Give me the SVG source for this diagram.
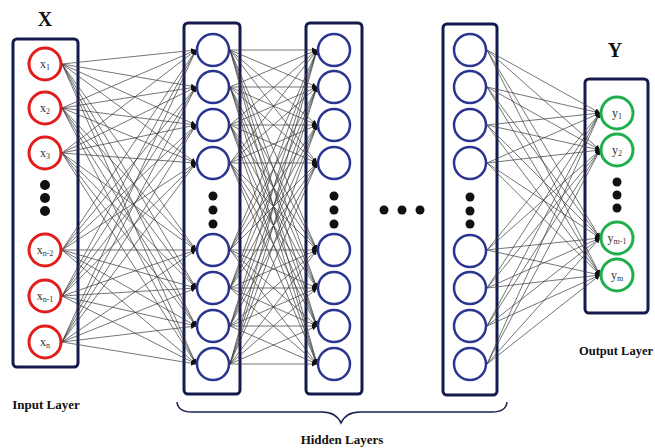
<svg xmlns="http://www.w3.org/2000/svg" width="655" height="448" viewBox="0 0 655 448">
<defs>
<marker id="ah" markerWidth="6" markerHeight="6" refX="5" refY="3" orient="auto" markerUnits="userSpaceOnUse"><path d="M0,0.6 L5,3 L0,5.4 z" fill="#111"/></marker>
<style>
.box{fill:#fff;stroke:#151a4d;stroke-width:3}
.in{fill:#fff;stroke:#e31c1c;stroke-width:3}
.hid{fill:#fff;stroke:#2a3590;stroke-width:2.5}
.out{fill:#fff;stroke:#1fae4c;stroke-width:3}
.dot{fill:#111}
.c line{stroke:#3a3a3a;stroke-width:0.7;marker-end:url(#ah)}
.nl{font-family:"Liberation Serif",serif;font-size:12px;fill:#333;text-anchor:middle}
.sub{font-size:8px}
.ttl{font-family:"Liberation Serif",serif;font-weight:bold;fill:#111;text-anchor:middle}
</style>
</defs>
<rect width="655" height="448" fill="#fff"/>
<g id="boxes">
<rect class="box" x="13" y="39" width="65" height="328" rx="4"/>
<rect class="box" x="184" y="23" width="56" height="371" rx="4"/>
<rect class="box" x="306" y="23" width="56" height="371" rx="4"/>
<rect class="box" x="443" y="24" width="54" height="371" rx="4"/>
<rect class="box" x="585" y="79" width="63" height="234" rx="4"/>
</g>
<g id="connectors" class="c">
<line x1="62" y1="64" x2="196" y2="50"/><line x1="62" y1="64" x2="196" y2="87"/><line x1="62" y1="64" x2="196" y2="125"/><line x1="62" y1="64" x2="196" y2="163"/><line x1="62" y1="64" x2="196" y2="250"/><line x1="62" y1="64" x2="196" y2="288"/><line x1="62" y1="64" x2="196" y2="326"/><line x1="62" y1="64" x2="196" y2="364"/>
<line x1="62" y1="108" x2="196" y2="50"/><line x1="62" y1="108" x2="196" y2="87"/><line x1="62" y1="108" x2="196" y2="125"/><line x1="62" y1="108" x2="196" y2="163"/><line x1="62" y1="108" x2="196" y2="250"/><line x1="62" y1="108" x2="196" y2="288"/><line x1="62" y1="108" x2="196" y2="326"/><line x1="62" y1="108" x2="196" y2="364"/>
<line x1="62" y1="153" x2="196" y2="50"/><line x1="62" y1="153" x2="196" y2="87"/><line x1="62" y1="153" x2="196" y2="125"/><line x1="62" y1="153" x2="196" y2="163"/><line x1="62" y1="153" x2="196" y2="250"/><line x1="62" y1="153" x2="196" y2="288"/><line x1="62" y1="153" x2="196" y2="326"/><line x1="62" y1="153" x2="196" y2="364"/>
<line x1="62" y1="250" x2="196" y2="50"/><line x1="62" y1="250" x2="196" y2="87"/><line x1="62" y1="250" x2="196" y2="125"/><line x1="62" y1="250" x2="196" y2="163"/><line x1="62" y1="250" x2="196" y2="250"/><line x1="62" y1="250" x2="196" y2="288"/><line x1="62" y1="250" x2="196" y2="326"/><line x1="62" y1="250" x2="196" y2="364"/>
<line x1="62" y1="296" x2="196" y2="50"/><line x1="62" y1="296" x2="196" y2="87"/><line x1="62" y1="296" x2="196" y2="125"/><line x1="62" y1="296" x2="196" y2="163"/><line x1="62" y1="296" x2="196" y2="250"/><line x1="62" y1="296" x2="196" y2="288"/><line x1="62" y1="296" x2="196" y2="326"/><line x1="62" y1="296" x2="196" y2="364"/>
<line x1="62" y1="342" x2="196" y2="50"/><line x1="62" y1="342" x2="196" y2="87"/><line x1="62" y1="342" x2="196" y2="125"/><line x1="62" y1="342" x2="196" y2="163"/><line x1="62" y1="342" x2="196" y2="250"/><line x1="62" y1="342" x2="196" y2="288"/><line x1="62" y1="342" x2="196" y2="326"/><line x1="62" y1="342" x2="196" y2="364"/>
<line x1="230" y1="50" x2="317" y2="50"/><line x1="230" y1="50" x2="317" y2="87"/><line x1="230" y1="50" x2="317" y2="125"/><line x1="230" y1="50" x2="317" y2="163"/><line x1="230" y1="50" x2="317" y2="250"/><line x1="230" y1="50" x2="317" y2="288"/><line x1="230" y1="50" x2="317" y2="326"/><line x1="230" y1="50" x2="317" y2="364"/>
<line x1="230" y1="87" x2="317" y2="50"/><line x1="230" y1="87" x2="317" y2="87"/><line x1="230" y1="87" x2="317" y2="125"/><line x1="230" y1="87" x2="317" y2="163"/><line x1="230" y1="87" x2="317" y2="250"/><line x1="230" y1="87" x2="317" y2="288"/><line x1="230" y1="87" x2="317" y2="326"/><line x1="230" y1="87" x2="317" y2="364"/>
<line x1="230" y1="125" x2="317" y2="50"/><line x1="230" y1="125" x2="317" y2="87"/><line x1="230" y1="125" x2="317" y2="125"/><line x1="230" y1="125" x2="317" y2="163"/><line x1="230" y1="125" x2="317" y2="250"/><line x1="230" y1="125" x2="317" y2="288"/><line x1="230" y1="125" x2="317" y2="326"/><line x1="230" y1="125" x2="317" y2="364"/>
<line x1="230" y1="163" x2="317" y2="50"/><line x1="230" y1="163" x2="317" y2="87"/><line x1="230" y1="163" x2="317" y2="125"/><line x1="230" y1="163" x2="317" y2="163"/><line x1="230" y1="163" x2="317" y2="250"/><line x1="230" y1="163" x2="317" y2="288"/><line x1="230" y1="163" x2="317" y2="326"/><line x1="230" y1="163" x2="317" y2="364"/>
<line x1="230" y1="250" x2="317" y2="50"/><line x1="230" y1="250" x2="317" y2="87"/><line x1="230" y1="250" x2="317" y2="125"/><line x1="230" y1="250" x2="317" y2="163"/><line x1="230" y1="250" x2="317" y2="250"/><line x1="230" y1="250" x2="317" y2="288"/><line x1="230" y1="250" x2="317" y2="326"/><line x1="230" y1="250" x2="317" y2="364"/>
<line x1="230" y1="288" x2="317" y2="50"/><line x1="230" y1="288" x2="317" y2="87"/><line x1="230" y1="288" x2="317" y2="125"/><line x1="230" y1="288" x2="317" y2="163"/><line x1="230" y1="288" x2="317" y2="250"/><line x1="230" y1="288" x2="317" y2="288"/><line x1="230" y1="288" x2="317" y2="326"/><line x1="230" y1="288" x2="317" y2="364"/>
<line x1="230" y1="326" x2="317" y2="50"/><line x1="230" y1="326" x2="317" y2="87"/><line x1="230" y1="326" x2="317" y2="125"/><line x1="230" y1="326" x2="317" y2="163"/><line x1="230" y1="326" x2="317" y2="250"/><line x1="230" y1="326" x2="317" y2="288"/><line x1="230" y1="326" x2="317" y2="326"/><line x1="230" y1="326" x2="317" y2="364"/>
<line x1="230" y1="364" x2="317" y2="50"/><line x1="230" y1="364" x2="317" y2="87"/><line x1="230" y1="364" x2="317" y2="125"/><line x1="230" y1="364" x2="317" y2="163"/><line x1="230" y1="364" x2="317" y2="250"/><line x1="230" y1="364" x2="317" y2="288"/><line x1="230" y1="364" x2="317" y2="326"/><line x1="230" y1="364" x2="317" y2="364"/>
<line x1="487" y1="50" x2="600" y2="113"/><line x1="487" y1="50" x2="600" y2="150"/><line x1="487" y1="50" x2="600" y2="238"/><line x1="487" y1="50" x2="600" y2="275"/>
<line x1="487" y1="87" x2="600" y2="113"/><line x1="487" y1="87" x2="600" y2="150"/><line x1="487" y1="87" x2="600" y2="238"/><line x1="487" y1="87" x2="600" y2="275"/>
<line x1="487" y1="125" x2="600" y2="113"/><line x1="487" y1="125" x2="600" y2="150"/><line x1="487" y1="125" x2="600" y2="238"/><line x1="487" y1="125" x2="600" y2="275"/>
<line x1="487" y1="163" x2="600" y2="113"/><line x1="487" y1="163" x2="600" y2="150"/><line x1="487" y1="163" x2="600" y2="238"/><line x1="487" y1="163" x2="600" y2="275"/>
<line x1="487" y1="250" x2="600" y2="113"/><line x1="487" y1="250" x2="600" y2="150"/><line x1="487" y1="250" x2="600" y2="238"/><line x1="487" y1="250" x2="600" y2="275"/>
<line x1="487" y1="288" x2="600" y2="113"/><line x1="487" y1="288" x2="600" y2="150"/><line x1="487" y1="288" x2="600" y2="238"/><line x1="487" y1="288" x2="600" y2="275"/>
<line x1="487" y1="326" x2="600" y2="113"/><line x1="487" y1="326" x2="600" y2="150"/><line x1="487" y1="326" x2="600" y2="238"/><line x1="487" y1="326" x2="600" y2="275"/>
<line x1="487" y1="364" x2="600" y2="113"/><line x1="487" y1="364" x2="600" y2="150"/><line x1="487" y1="364" x2="600" y2="238"/><line x1="487" y1="364" x2="600" y2="275"/>
</g>
<g id="input-layer">
<g id="x1"><circle class="in" cx="45" cy="64" r="16"/><text class="nl" x="45" y="68">x<tspan class="sub" dy="2">1</tspan></text></g>
<g id="x2"><circle class="in" cx="45" cy="108" r="16"/><text class="nl" x="45" y="112">x<tspan class="sub" dy="2">2</tspan></text></g>
<g id="x3"><circle class="in" cx="45" cy="153" r="16"/><text class="nl" x="45" y="157">x<tspan class="sub" dy="2">3</tspan></text></g>
<g id="xdots"><circle class="dot" cx="45" cy="185" r="5"/><circle class="dot" cx="45" cy="198" r="5"/><circle class="dot" cx="45" cy="211" r="5"/></g>
<g id="xn2"><circle class="in" cx="45" cy="250" r="16"/><text class="nl" x="45" y="254">x<tspan class="sub" dy="2">n-2</tspan></text></g>
<g id="xn1"><circle class="in" cx="45" cy="296" r="16"/><text class="nl" x="45" y="300">x<tspan class="sub" dy="2">n-1</tspan></text></g>
<g id="xn"><circle class="in" cx="45" cy="342" r="16"/><text class="nl" x="45" y="346">x<tspan class="sub" dy="2">n</tspan></text></g>
</g>
<g id="hidden-1">
<circle class="hid" cx="213" cy="50" r="16"/><circle class="hid" cx="213" cy="87" r="16"/><circle class="hid" cx="213" cy="125" r="16"/><circle class="hid" cx="213" cy="163" r="16"/>
<circle class="dot" cx="213" cy="196" r="4.5"/><circle class="dot" cx="213" cy="210" r="4.5"/><circle class="dot" cx="213" cy="224" r="4.5"/>
<circle class="hid" cx="213" cy="250" r="16"/><circle class="hid" cx="213" cy="288" r="16"/><circle class="hid" cx="213" cy="326" r="16"/><circle class="hid" cx="213" cy="364" r="16"/>
</g>
<g id="hidden-2">
<circle class="hid" cx="334" cy="50" r="16"/><circle class="hid" cx="334" cy="87" r="16"/><circle class="hid" cx="334" cy="125" r="16"/><circle class="hid" cx="334" cy="163" r="16"/>
<circle class="dot" cx="334" cy="196" r="4.5"/><circle class="dot" cx="334" cy="210" r="4.5"/><circle class="dot" cx="334" cy="224" r="4.5"/>
<circle class="hid" cx="334" cy="250" r="16"/><circle class="hid" cx="334" cy="288" r="16"/><circle class="hid" cx="334" cy="326" r="16"/><circle class="hid" cx="334" cy="364" r="16"/>
</g>
<g id="layer-dots"><circle class="dot" cx="384" cy="210" r="4.5"/><circle class="dot" cx="402" cy="210" r="4.5"/><circle class="dot" cx="420" cy="210" r="4.5"/></g>
<g id="hidden-3">
<circle class="hid" cx="470" cy="50" r="16"/><circle class="hid" cx="470" cy="87" r="16"/><circle class="hid" cx="470" cy="125" r="16"/><circle class="hid" cx="470" cy="163" r="16"/>
<circle class="dot" cx="470" cy="197" r="4.5"/><circle class="dot" cx="470" cy="211" r="4.5"/><circle class="dot" cx="470" cy="224" r="4.5"/>
<circle class="hid" cx="470" cy="251" r="16"/><circle class="hid" cx="470" cy="288" r="16"/><circle class="hid" cx="470" cy="326" r="16"/><circle class="hid" cx="470" cy="364" r="16"/>
</g>
<g id="output-layer">
<g id="y1"><circle class="out" cx="617" cy="113" r="16"/><text class="nl" x="617" y="117">y<tspan class="sub" dy="2">1</tspan></text></g>
<g id="y2"><circle class="out" cx="617" cy="150" r="16"/><text class="nl" x="617" y="154">y<tspan class="sub" dy="2">2</tspan></text></g>
<g id="ydots"><circle class="dot" cx="617" cy="182" r="4.5"/><circle class="dot" cx="617" cy="195" r="4.5"/><circle class="dot" cx="617" cy="208" r="4.5"/></g>
<g id="ym1"><circle class="out" cx="617" cy="238" r="16"/><text class="nl" x="617" y="242">y<tspan class="sub" dy="2">m-1</tspan></text></g>
<g id="ym"><circle class="out" cx="617" cy="275" r="16"/><text class="nl" x="617" y="279">y<tspan class="sub" dy="2">m</tspan></text></g>
</g>
<g id="labels">
<text class="ttl" x="45" y="26" font-size="20">X</text>
<text class="ttl" x="615" y="57" font-size="20">Y</text>
<text class="ttl" x="46" y="409" font-size="13">Input Layer</text>
<text class="ttl" x="616" y="355" font-size="12.5">Output Layer</text>
<text class="ttl" x="342" y="444" font-size="13">Hidden Layers</text>
</g>
<g id="brace"><path d="M177,402 Q178,412 192,412 L322,412 Q336,412 341,423 Q346,412 360,412 L492,412 Q506,412 507,402" fill="none" stroke="#1a2050" stroke-width="1.5"/></g>
</svg>
